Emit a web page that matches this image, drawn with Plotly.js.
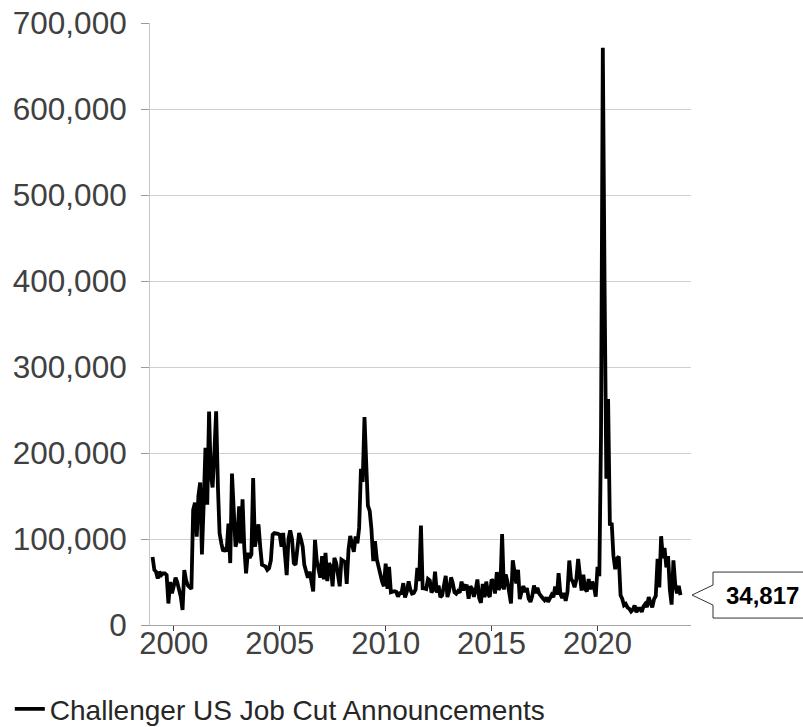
<!DOCTYPE html>
<html>
<head>
<meta charset="utf-8">
<script src="https://cdn.plot.ly/plotly-3.0.1.min.js"></script>
<style>
  html, body { margin: 0; padding: 0; background: #ffffff; }
  #chart { width: 803px; height: 727px; }
</style>
</head>
<body>
<div id="chart"></div>
<script>
// Challenger, Gray & Christmas: announced US job cuts, monthly, Jan 1999 - Dec 2023
const seriesName = 'Challenger US Job Cut Announcements';
const firstYear = 1999;

const cuts1999 = [79000, 64000, 62000, 54000, 62000, 58000, 60000, 60000, 58000, 25000, 50000, 37000];
const cuts2000 = [45000, 55000, 50000, 41000, 33000, 17500, 64000, 52000, 46000, 44000, 42000, 133713];
const cuts2001 = [142208, 102848, 150000, 165762, 82000, 142000, 205996, 140000, 248332, 175000, 160000, 200000];
const cuts2002 = [248475, 160000, 107000, 95000, 86000, 88000, 86000, 118000, 72000, 176010, 120000, 91000];
const cuts2003 = [100000, 138000, 95000, 146000, 90000, 60000, 84000, 78000, 82000, 171000, 91000, 105000];
const cuts2004 = [117000, 90000, 70000, 69000, 68000, 64000, 66000, 75000, 105000, 107000, 107000, 106000];
const cuts2005 = [105000, 91000, 107000, 75000, 58000, 100000, 110000, 100000, 72000, 70000, 85000, 107000];
const cuts2006 = [100000, 91000, 70000, 60000, 55000, 62000, 50000, 39000, 99000, 75000, 65000, 55000];
const cuts2007 = [80000, 53000, 84000, 51000, 72000, 68000, 45000, 78000, 72000, 55000, 45000, 76000];
const cuts2008 = [74986, 73291, 47783, 88000, 103522, 96000, 85000, 103000, 95094, 112884, 181671, 166348];
const cuts2009 = [241749, 186350, 138731, 132590, 111182, 74393, 97373, 76456, 67037, 60389, 50349, 45094];
const cuts2010 = [71482, 42090, 67611, 38164, 38810, 39358, 38588, 32921, 37151, 37199, 48711, 32004];
const cuts2011 = [38519, 50702, 41528, 36490, 37135, 41432, 66414, 51114, 115730, 42759, 42474, 41835];
const cuts2012 = [53486, 51728, 37880, 40559, 61887, 37551, 45817, 32239, 34472, 47724, 57081, 32556];
const cuts2013 = [40430, 55356, 49255, 38121, 36398, 39372, 37701, 50462, 40289, 45730, 45314, 30623];
const cuts2014 = [45107, 41835, 32725, 40298, 52961, 31434, 25805, 47638, 32188, 50462, 35940, 32640];
const cuts2015 = [53041, 50579, 36594, 61582, 41034, 44842, 105696, 41186, 58877, 50504, 35039, 25000];
const cuts2016 = [75114, 61599, 48207, 64141, 30157, 38536, 45346, 38528, 43000, 30740, 26936, 33627];
const cuts2017 = [45934, 36957, 43310, 36602, 33092, 31105, 28802, 32010, 26889, 30659, 35038, 32423];
const cuts2018 = [44653, 35369, 60357, 36081, 31517, 37202, 28000, 38472, 75000, 53676, 50264, 43884];
const cuts2019 = [52988, 76835, 60587, 40023, 58577, 41977, 38845, 53480, 41557, 50275, 44569, 32843];
const cuts2020 = [67735, 56660, 222288, 671129, 397016, 170219, 262649, 115762, 118804, 80666, 64797, 77030];
const cuts2021 = [79552, 34531, 30603, 22913, 24586, 20476, 18942, 15723, 17895, 22822, 14875, 19052];
const cuts2022 = [19064, 15245, 21387, 24286, 20712, 32517, 25810, 20485, 29989, 33843, 76835, 43651];
const cuts2023 = [103180, 77770, 89703, 66995, 80089, 40709, 23697, 75151, 47457, 36836, 45510, 34817];

const yTickValues = [0, 100000, 200000, 300000, 400000, 500000, 600000, 700000];
const xTickYears = [2000, 2005, 2010, 2015, 2020];

const values = [].concat(
  cuts1999, cuts2000, cuts2001, cuts2002, cuts2003, cuts2004, cuts2005,
  cuts2006, cuts2007, cuts2008, cuts2009, cuts2010, cuts2011, cuts2012,
  cuts2013, cuts2014, cuts2015, cuts2016, cuts2017, cuts2018, cuts2019,
  cuts2020, cuts2021, cuts2022, cuts2023
);

// one date per month, starting January of the first year
const dates = values.map(function (_, i) {
  const y = firstYear + Math.floor(i / 12);
  const m = (i % 12) + 1;
  return y + '-' + (m < 10 ? '0' + m : m) + '-01';
});

const yMax = 700000;
const lastValue = values[values.length - 1];
const FONT = 'Liberation Sans, Arial, Helvetica, sans-serif';

const trace = {
  type: 'scatter',
  mode: 'lines',
  name: seriesName,
  x: dates,
  y: values,
  line: { color: '#000000', width: 3.8 },
  hoverinfo: 'x+y'
};

const layout = {
  width: 803,
  height: 727,
  margin: { l: 150, r: 112, t: 23, b: 102, autoexpand: false },
  paper_bgcolor: '#ffffff',
  plot_bgcolor: '#ffffff',
  font: { family: FONT, color: '#404040' },
  showlegend: true,
  legend: {
    orientation: 'h',
    xref: 'container', yref: 'container',
    x: 0.0122, xanchor: 'left',
    y: 0.0245, yanchor: 'middle',
    font: { family: FONT, size: 28, color: '#262626' },
    bgcolor: 'rgba(0,0,0,0)'
  },
  xaxis: {
    type: 'date',
    range: ['1998-11-18', '2024-05-30'],
    tickvals: xTickYears.map(function (y) { return y + '-01-01'; }),
    ticktext: xTickYears.map(String),
    showgrid: false,
    zeroline: false,
    showline: true,
    linecolor: '#a6a6a6',
    linewidth: 1,
    ticks: 'outside',
    ticklen: 5,
    tickwidth: 1,
    tickcolor: '#404040',
    ticklabelstandoff: -14,
    tickfont: { family: FONT, size: 31, color: '#404040' },
    automargin: false,
    fixedrange: true
  },
  yaxis: {
    range: [0, yMax],
    tickvals: yTickValues,
    tickformat: ',d',
    showgrid: true,
    gridcolor: '#d0d0d0',
    gridwidth: 1,
    zeroline: false,
    showline: true,
    linecolor: '#c8c8c8',
    linewidth: 1,
    ticks: 'outside',
    ticklen: 8,
    tickwidth: 1,
    tickcolor: '#9a9a9a',
    ticklabelstandoff: 8,
    tickfont: { family: FONT, size: 31.5, color: '#404040' },
    automargin: false,
    fixedrange: true
  },
  shapes: [
    {
      // callout box with a notch pointing at the latest value
      type: 'path',
      xref: 'paper', yref: 'paper',
      xsizemode: 'pixel', ysizemode: 'pixel',
      xanchor: 1, yanchor: lastValue / yMax,
      path: 'M1,0 L22,10 L22,23 L130,23 L130,-23 L22,-23 L22,-10 Z',
      line: { color: '#333333', width: 1 },
      fillcolor: '#ffffff',
      layer: 'above'
    }
  ],
  annotations: [
    {
      xref: 'paper', yref: 'y',
      x: 1, y: lastValue,
      xanchor: 'left', yanchor: 'middle',
      xshift: 33,
      showarrow: false,
      text: '<b>' + lastValue.toLocaleString('en-US') + '</b>',
      font: { family: FONT, size: 24, color: '#000000' }
    }
  ]
};

Plotly.newPlot('chart', [trace], layout, { displayModeBar: false, staticPlot: true });
</script>
</body>
</html>
